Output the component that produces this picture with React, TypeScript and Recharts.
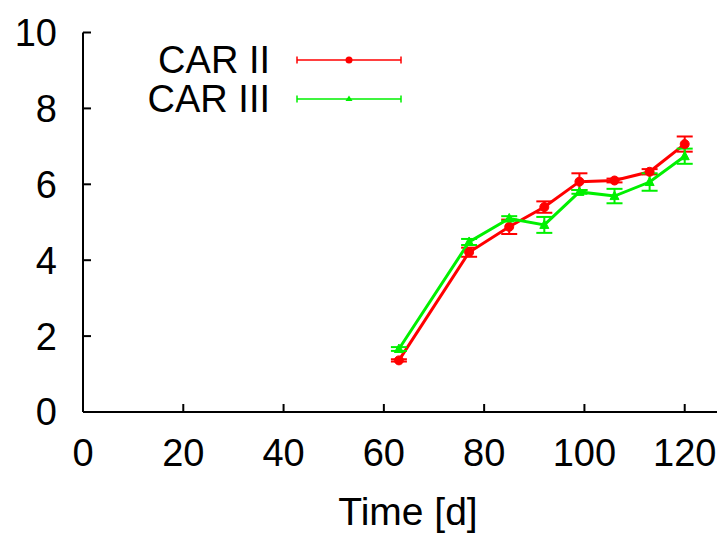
import React from 'react';
import { LineChart, Line, XAxis, YAxis, ErrorBar, Legend, Label } from 'recharts';

const days = [63, 77, 85, 92, 99, 106, 113, 120];
const carII = [1.36, 4.21, 4.88, 5.4, 6.07, 6.1, 6.33, 7.06];
const carIIErr = [0.03, 0.12, 0.19, 0.15, 0.22, 0.05, 0.07, 0.2];
const carIII = [1.66, 4.48, 5.1, 4.93, 5.8, 5.69, 6.06, 6.74];
const carIIIErr = [0.05, 0.08, 0.06, 0.21, 0.05, 0.19, 0.23, 0.2];
const xTicks = [0, 20, 40, 60, 80, 100, 120];
const yTicks = [0, 2, 4, 6, 8, 10];
const seriesNames = ['CAR II', 'CAR III'];

const data = days.map((d, i) => ({
  day: d,
  car2: carII[i],
  car2err: carIIErr[i],
  car3: carIII[i],
  car3err: carIIIErr[i],
}));

const FONT = '"Liberation Sans", Arial, Helvetica, sans-serif';
const RED = '#ff0000';
const GREEN = '#00f000';

const XBottomTick = (props: any) => {
  const { x, y, payload } = props;
  return (
    <g>
      <line x1={x} x2={x} y1={y - 27} y2={y - 35} stroke="#000" strokeWidth={2} />
      <text x={x} y={y} dy="0.71em" textAnchor="middle" fontSize={38} fontFamily={FONT} fill="#000">
        {payload.value}
      </text>
    </g>
  );
};

const XTopTick = (props: any) => {
  const { x, y } = props;
  return <line x1={x} x2={x} y1={y} y2={y + 8} stroke="#000" strokeWidth={2} />;
};

const YLeftTick = (props: any) => {
  const { x, y, payload } = props;
  return (
    <g>
      <line x1={x + 26} x2={x + 34} y1={y} y2={y} stroke="#000" strokeWidth={2} />
      <text x={x} y={y} dy="0.355em" textAnchor="end" fontSize={38} fontFamily={FONT} fill="#000">
        {payload.value}
      </text>
    </g>
  );
};

const TriangleDot = (props: any) => {
  const { cx, cy, index } = props;
  if (cx == null || cy == null) return <g key={index} />;
  return (
    <path
      key={index}
      d={`M${cx},${cy - 5} L${cx + 4.5},${cy + 3.5} L${cx - 4.5},${cy + 3.5} Z`}
      fill={GREEN}
      stroke={GREEN}
      strokeWidth={1}
    />
  );
};

const LegendContent = () => (
  <svg width={420} height={130} style={{ display: 'block' }}>
    <text x={262} y={52} dy="0.355em" textAnchor="end" fontSize={38} fontFamily={FONT} fill="#000">
      {seriesNames[0]}
    </text>
    <line x1={289} x2={393} y1={52} y2={52} stroke={RED} strokeWidth={1.5} />
    <line x1={289} x2={289} y1={48.5} y2={55.5} stroke={RED} strokeWidth={1.5} />
    <line x1={393} x2={393} y1={48.5} y2={55.5} stroke={RED} strokeWidth={1.5} />
    <circle cx={341} cy={52} r={3.5} fill={RED} />
    <text x={262} y={91} dy="0.355em" textAnchor="end" fontSize={38} fontFamily={FONT} fill="#000">
      {seriesNames[1]}
    </text>
    <line x1={289} x2={393} y1={91} y2={91} stroke={GREEN} strokeWidth={1.5} />
    <line x1={289} x2={289} y1={87.5} y2={94.5} stroke={GREEN} strokeWidth={1.5} />
    <line x1={393} x2={393} y1={87.5} y2={94.5} stroke={GREEN} strokeWidth={1.5} />
    <path d="M341,87.5 L344.5,93 L337.5,93 Z" fill={GREEN} />
  </svg>
);

export default function App() {
  return (
    <div style={{ width: 717, height: 527, overflow: 'hidden', background: '#fff' }}>
      <LineChart
        width={900}
        height={527}
        data={data}
        margin={{ top: 24.5, right: 123, bottom: 23, left: 0 }}
      >
        <XAxis
          xAxisId="bottom"
          dataKey="day"
          type="number"
          domain={[0, 140]}
          ticks={xTicks}
          orientation="bottom"
          height={100}
          tickSize={0}
          tickMargin={27}
          tickLine={false}
          axisLine={{ stroke: '#000', strokeWidth: 2 }}
          tick={<XBottomTick />}
          interval={0}
        >
          <Label
            content={(props: any) => {
              const vb = props.viewBox || { x: 75, y: 404 };
              return (
                <text
                  x={vb.x + 325}
                  y={vb.y + 113}
                  textAnchor="middle"
                  fontSize={39}
                  fontFamily={FONT}
                  fill="#000"
                >
                  Time [d]
                </text>
              );
            }}
          />
        </XAxis>
        <XAxis
          xAxisId="top"
          dataKey="day"
          type="number"
          domain={[0, 140]}
          ticks={xTicks}
          orientation="top"
          height={0}
          tickSize={0}
          tickMargin={0}
          tickLine={false}
          axisLine={{ stroke: '#000', strokeWidth: 2 }}
          tick={<XTopTick />}
          interval={0}
        />
        <YAxis
          yAxisId="left"
          type="number"
          domain={[0, 10]}
          ticks={yTicks}
          width={75}
          tickSize={0}
          tickMargin={26}
          tickLine={false}
          axisLine={{ stroke: '#000', strokeWidth: 2 }}
          tick={<YLeftTick />}
          interval={0}
        />
        <Legend
          layout="horizontal"
          verticalAlign="middle"
          align="center"
          content={() => <LegendContent />}
          wrapperStyle={{ left: 0, top: 0, width: 420, height: 130 }}
        />
        <Line
          xAxisId="bottom"
          yAxisId="left"
          type="linear"
          dataKey="car2"
          name={seriesNames[0]}
          stroke={RED}
          strokeWidth={3}
          dot={{ r: 4.5, fill: RED, stroke: RED, strokeWidth: 1 }}
          activeDot={false}
          isAnimationActive={false}
        >
          <ErrorBar dataKey="car2err" width={8} strokeWidth={2} stroke={RED} direction="y" isAnimationActive={false} />
        </Line>
        <Line
          xAxisId="bottom"
          yAxisId="left"
          type="linear"
          dataKey="car3"
          name={seriesNames[1]}
          stroke={GREEN}
          strokeWidth={3}
          dot={<TriangleDot />}
          activeDot={false}
          isAnimationActive={false}
        >
          <ErrorBar dataKey="car3err" width={8} strokeWidth={2} stroke={GREEN} direction="y" isAnimationActive={false} />
        </Line>
      </LineChart>
    </div>
  );
}
